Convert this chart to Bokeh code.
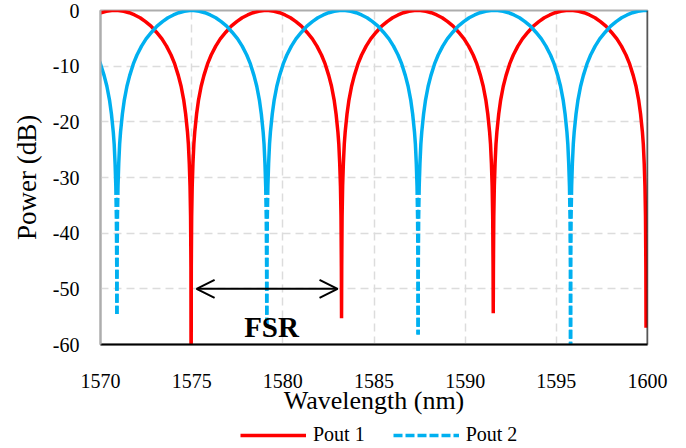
import math
from bokeh.plotting import figure
from bokeh.layouts import column
from bokeh.models import (FixedTicker, Span, Arrow, OpenHead, Label, Legend,
                          LegendItem, Range1d)
from bokeh.embed import file_html
from bokeh.resources import INLINE

# ---------------- data ----------------
X_TICKS = [1570, 1575, 1580, 1585, 1590, 1595, 1600]
Y_TICKS = [-60, -50, -40, -30, -20, -10, 0]

# shape of one interference fringe around a null: offset from the null (nm) -> power (dB)
PROFILE_OFFSET_NM = [0.01, 0.03, 0.06, 0.10, 0.15, 0.20, 0.30, 0.40, 0.55, 0.70,
                     0.90, 1.10, 1.35, 1.60, 1.90, 2.20, 2.50, 2.80, 3.10, 3.40,
                     3.70, 4.00]
PROFILE_DB = [-46.0, -37.0, -31.5, -27.5, -24.0, -21.8, -18.6, -16.2, -13.6, -11.7,
              -9.6, -8.0, -6.4, -5.1, -3.9, -2.8, -2.0, -1.3, -0.8, -0.4,
              -0.15, -0.02]

# Pout 1 (red): null wavelengths and null depths
P1_NULL_WL = [1566.62, 1574.97, 1583.22, 1591.54, 1599.92]
P1_NULL_DB = [-60.0, -75.0, -55.3, -54.4, -57.0]
P1_END_WL = 1599.92

# Pout 2 (blue): null wavelengths and null depths
P2_NULL_WL = [1570.90, 1579.12, 1587.42, 1595.78, 1604.10]
P2_NULL_DB = [-54.5, -57.0, -58.2, -75.0, -60.0]

DEEP_OFFSET = 0.06   # below this offset the blue trace is drawn dashed


def build(nulls, depths):
    pts = []
    for n, d in zip(nulls, depths):
        pts.append((n, d, 0.0))
        for o, v in zip(PROFILE_OFFSET_NM, PROFILE_DB):
            pts.append((n - o, v, o))
            pts.append((n + o, v, o))
    pts.sort(key=lambda t: t[0])
    return pts


# red
p1 = [t for t in build(P1_NULL_WL, P1_NULL_DB) if t[0] <= P1_END_WL]
p1_x = [t[0] for t in p1]
p1_y = [t[1] for t in p1]

# blue: solid main trace, dashed near the nulls
p2 = build(P2_NULL_WL, P2_NULL_DB)
p2_x, p2_y = [], []
for x, y, o in p2:
    if o < DEEP_OFFSET:
        if p2_y and not math.isnan(p2_y[-1]):
            p2_x.append(float("nan"))
            p2_y.append(float("nan"))
    else:
        p2_x.append(x)
        p2_y.append(y)

deep_idx = [i for i, o in enumerate(PROFILE_OFFSET_NM) if o <= DEEP_OFFSET]
dx, dy = [], []
for n, d in zip(P2_NULL_WL, P2_NULL_DB):
    for sgn in (-1, 1):
        xs = [n + sgn * PROFILE_OFFSET_NM[i] for i in reversed(deep_idx)] + [n]
        ys = [PROFILE_DB[i] for i in reversed(deep_idx)] + [d]
        dx.append(xs)
        dy.append(ys)

# ---------------- figure ----------------
RED = "#FF0000"
BLUE = "#00B0F0"
FONT = "Liberation Serif"
LW = 3.5

p = figure(width=684, height=420, x_range=Range1d(1570, 1600),
           y_range=Range1d(-60, 0), output_backend="svg",
           toolbar_location=None, min_border_left=100, min_border_right=37,
           min_border_top=10, min_border_bottom=76)
p.background_fill_color = "white"
p.border_fill_color = "white"
p.outline_line_color = "#ADADAD"
p.outline_line_width = 2

# grid
p.xgrid.ticker = FixedTicker(ticks=X_TICKS)
p.ygrid.ticker = FixedTicker(ticks=Y_TICKS)
for g in (p.xgrid, p.ygrid):
    g.grid_line_color = "#DCDCDC"
    g.grid_line_width = 1.5
    g.grid_line_dash = "8 5"

# axes
p.xaxis.ticker = FixedTicker(ticks=X_TICKS)
p.yaxis.ticker = FixedTicker(ticks=Y_TICKS)
p.xaxis.major_label_overrides = {v: str(v) for v in X_TICKS}
p.yaxis.major_label_overrides = {v: str(v) for v in Y_TICKS}
for ax in (p.xaxis, p.yaxis):
    ax.major_tick_line_color = None
    ax.minor_tick_line_color = None
    ax.major_label_text_font = FONT
    ax.major_label_text_font_size = "20px"
    ax.major_label_text_color = "black"
    ax.axis_label_text_font = FONT
    ax.axis_label_text_font_style = "normal"
    ax.axis_label_text_color = "black"
p.xaxis.axis_label_text_font_size = "26px"
p.yaxis.axis_label_text_font_size = "27px"
p.xaxis.axis_line_color = "black"
p.xaxis.axis_line_width = 2
p.yaxis.axis_line_color = "#ADADAD"
p.yaxis.axis_line_width = 2
p.xaxis.axis_label = "Wavelength (nm)"
p.yaxis.axis_label = "Power (dB)"
p.xaxis.major_label_standoff = 23
p.yaxis.major_label_standoff = 15
p.xaxis.axis_label_standoff = -5
p.yaxis.axis_label_standoff = 8

p.add_layout(Span(location=1600, dimension="height", line_color="black",
                  line_width=1.5))

# traces
p.line(p1_x, p1_y, line_color=RED, line_width=LW)
p.line(p2_x, p2_y, line_color=BLUE, line_width=LW)
p.multi_line(dx, dy, line_color=BLUE, line_width=LW, line_dash="9 3")

# FSR annotation
p.add_layout(Arrow(start=OpenHead(size=18, line_width=2, line_color="black"),
                   end=OpenHead(size=18, line_width=2, line_color="black"),
                   x_start=1575.27, y_start=-50, x_end=1583.0, y_end=-50,
                   line_width=2, line_color="black"))
p.add_layout(Label(x=1579.38, y=-56.8, text="FSR", text_font=FONT,
                   text_font_size="29px", text_font_style="bold",
                   text_align="center", text_baseline="alphabetic",
                   text_color="black"))

# ---------------- legend strip below the chart ----------------
pl = figure(width=684, height=26, x_range=Range1d(0, 1), y_range=Range1d(0, 1),
            x_axis_type=None, y_axis_type=None, output_backend="svg",
            toolbar_location=None, min_border=0)
pl.outline_line_color = None
pl.xgrid.visible = False
pl.ygrid.visible = False
pl.background_fill_color = "white"
pl.border_fill_color = "white"
nan = float("nan")
k1 = pl.line([nan], [nan], line_color=RED, line_width=LW)
k2 = pl.line([nan], [nan], line_color=BLUE, line_width=LW, line_dash="9 3")
legend = Legend(items=[LegendItem(label="Pout 1", renderers=[k1]),
                       LegendItem(label="Pout 2", renderers=[k2])],
                orientation="horizontal", location=(140, 0),
                glyph_width=66, glyph_height=20, label_height=20,
                label_standoff=7, spacing=28, padding=0, margin=0,
                border_line_color=None, background_fill_alpha=0,
                label_text_font=FONT, label_text_font_size="20px",
                label_text_color="black")
pl.add_layout(legend, "center")

layout = column(p, pl, spacing=0)
open("out.html", "w").write(file_html(layout, INLINE))
